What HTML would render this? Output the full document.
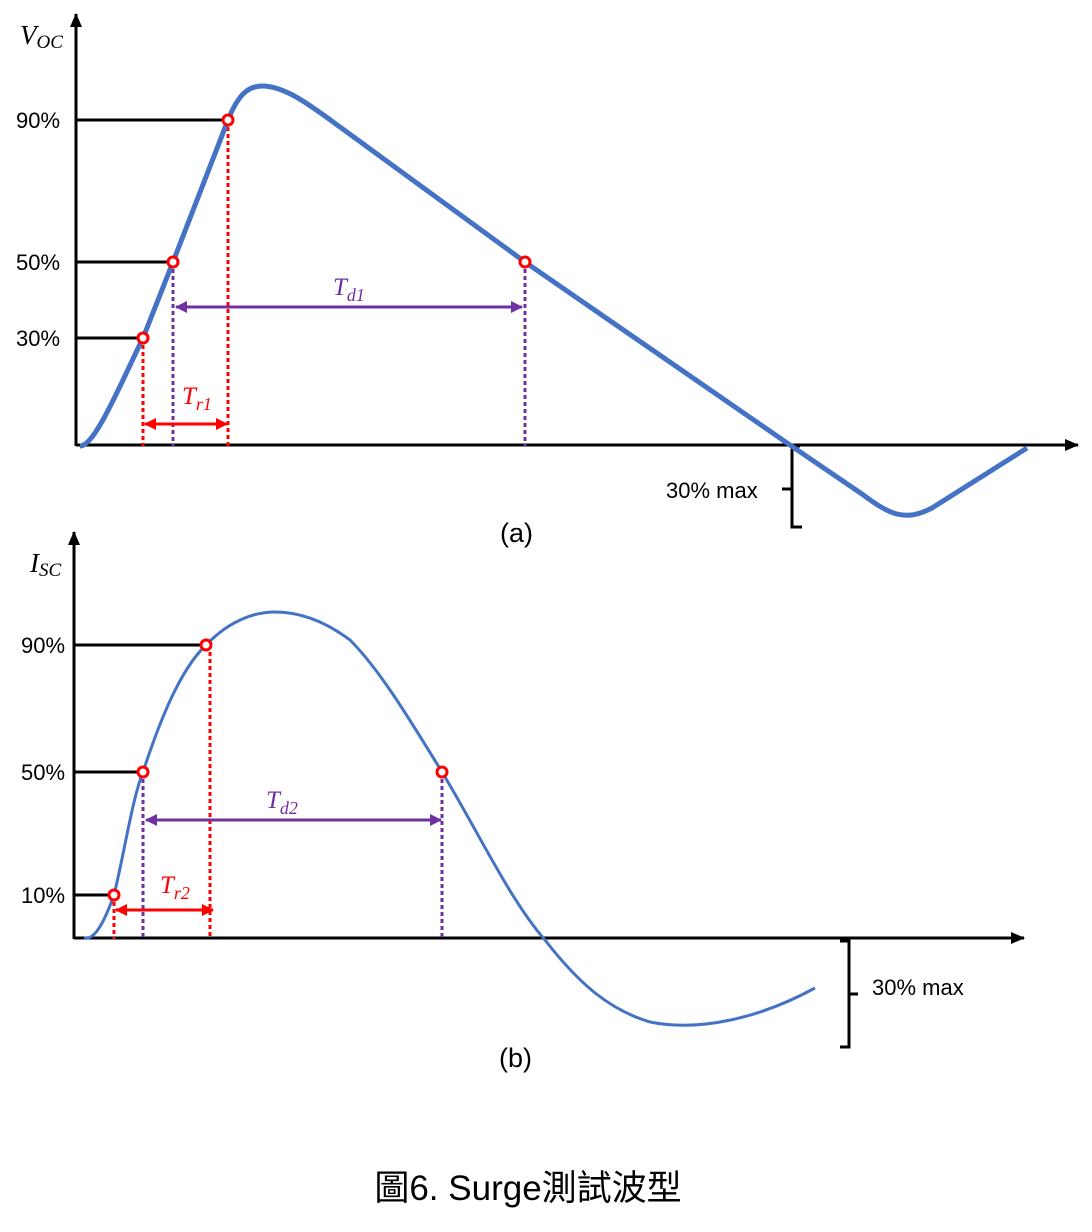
<!DOCTYPE html>
<html><head><meta charset="utf-8"><style>body{margin:0;background:#fff}svg{display:block}</style></head><body>
<svg width="1092" height="1232" viewBox="0 0 1092 1232" xmlns="http://www.w3.org/2000/svg" font-family="Liberation Sans, DejaVu Sans, sans-serif">
<defs>
<marker id="ak" markerWidth="14" markerHeight="12" refX="13" refY="6" orient="auto" markerUnits="userSpaceOnUse"><path d="M0,0 L14,6 L0,12 Z" fill="#000"/></marker>
<marker id="ar" markerWidth="12" markerHeight="12" refX="11" refY="6" orient="auto-start-reverse" markerUnits="userSpaceOnUse"><path d="M0,0 L12,6 L0,12 Z" fill="#f00"/></marker>
<marker id="ap" markerWidth="12" markerHeight="12" refX="11" refY="6" orient="auto-start-reverse" markerUnits="userSpaceOnUse"><path d="M0,0 L12,6 L0,12 Z" fill="#7030a0"/></marker>
</defs>
<g stroke="#000" stroke-width="3" fill="none">
<line x1="76" y1="446" x2="76" y2="14" marker-end="url(#ak)"/>
<line x1="76" y1="445" x2="1078" y2="445" marker-end="url(#ak)"/>
<line x1="76" y1="120" x2="228" y2="120"/>
<line x1="76" y1="262" x2="173" y2="262"/>
<line x1="76" y1="338" x2="143" y2="338"/>
<path d="M800,446 H792 V527 H802 M792,489 H782"/>
</g>
<g stroke-width="3" fill="none" stroke-dasharray="4,3">
<line x1="143" y1="338" x2="143" y2="446" stroke="#f00"/>
<line x1="228" y1="120" x2="228" y2="446" stroke="#f00"/>
<line x1="173" y1="262" x2="173" y2="446" stroke="#7030a0"/>
<line x1="525" y1="262" x2="525" y2="446" stroke="#7030a0"/>
</g>
<line x1="145" y1="424" x2="227" y2="424" stroke="#f00" stroke-width="3" marker-start="url(#ar)" marker-end="url(#ar)"/>
<line x1="176" y1="307" x2="522" y2="307" stroke="#7030a0" stroke-width="3" marker-start="url(#ap)" marker-end="url(#ap)"/>
<path d="M80,446 C95,446 120,385 143,338 L173,262 L228,120 C238,95 248,86 262,86 C285,86 310,105 340,127 L525,262 L790,445 L862,494 C890,515 905,522 932,508 L1027,448" stroke="#4472c4" stroke-width="5" fill="none"/>
<g fill="#fff" stroke="#f00" stroke-width="3">
<circle cx="228" cy="120" r="5"/><circle cx="173" cy="262" r="5"/><circle cx="143" cy="338" r="5"/><circle cx="525" cy="262" r="5"/>
</g>
<g font-size="22" fill="#000">
<text x="16" y="128">90%</text><text x="16" y="270">50%</text><text x="16" y="346">30%</text>
<text x="666" y="498">30% max</text>
<text x="500" y="542" font-size="27">(a)</text>
</g>
<text x="20" y="44" font-family="Liberation Serif, serif" font-style="italic" font-size="27">V<tspan font-size="19" dy="4">OC</tspan></text>
<text x="182" y="404" font-family="Liberation Serif, serif" font-style="italic" font-size="25" fill="#f00">T<tspan font-size="18" dy="6">r1</tspan></text>
<text x="333" y="295" font-family="Liberation Serif, serif" font-style="italic" font-size="25" fill="#7030a0">T<tspan font-size="18" dy="6">d1</tspan></text>
<g stroke="#000" stroke-width="3" fill="none">
<line x1="74" y1="939" x2="74" y2="532" marker-end="url(#ak)"/>
<line x1="74" y1="938" x2="1024" y2="938" marker-end="url(#ak)"/>
<line x1="74" y1="645" x2="206" y2="645"/>
<line x1="74" y1="772" x2="143" y2="772"/>
<line x1="74" y1="895" x2="114" y2="895"/>
<path d="M840,941 H849 V1047 H840 M849,994 H858"/>
</g>
<g stroke-width="3" fill="none" stroke-dasharray="4,3">
<line x1="114" y1="895" x2="114" y2="939" stroke="#f00"/>
<line x1="210" y1="645" x2="210" y2="939" stroke="#f00"/>
<line x1="143" y1="772" x2="143" y2="939" stroke="#7030a0"/>
<line x1="442" y1="772" x2="442" y2="939" stroke="#7030a0"/>
</g>
<line x1="116" y1="910" x2="213" y2="910" stroke="#f00" stroke-width="3" marker-start="url(#ar)" marker-end="url(#ar)"/>
<line x1="146" y1="820" x2="441" y2="820" stroke="#7030a0" stroke-width="3" marker-start="url(#ap)" marker-end="url(#ap)"/>
<path d="M84,938 C95,941 105,920 114,895 C125,850 132,800 143,772 C160,720 180,670 206,645 C230,620 255,612 275,612 C305,612 330,625 350,640 C380,670 410,720 442,772 C480,835 510,900 545,940 C580,985 610,1010 650,1022 C700,1032 760,1018 815,988" stroke="#4472c4" stroke-width="3" fill="none"/>
<g fill="#fff" stroke="#f00" stroke-width="3">
<circle cx="206" cy="645" r="5"/><circle cx="143" cy="772" r="5"/><circle cx="114" cy="895" r="5"/><circle cx="442" cy="772" r="5"/>
</g>
<g font-size="22" fill="#000">
<text x="21" y="653">90%</text><text x="21" y="780">50%</text><text x="21" y="903">10%</text>
<text x="872" y="995">30% max</text>
<text x="499" y="1067" font-size="27">(b)</text>
</g>
<text x="30" y="572" font-family="Liberation Serif, serif" font-style="italic" font-size="27">I<tspan font-size="19" dy="4">SC</tspan></text>
<text x="160" y="893" font-family="Liberation Serif, serif" font-style="italic" font-size="25" fill="#f00">T<tspan font-size="18" dy="6">r2</tspan></text>
<text x="266" y="808" font-family="Liberation Serif, serif" font-style="italic" font-size="25" fill="#7030a0">T<tspan font-size="18" dy="6">d2</tspan></text>
<text x="528" y="1200" text-anchor="middle" font-family="Liberation Sans, Noto Sans CJK TC, sans-serif" font-size="35">圖6. Surge測試波型</text>
</svg>
</body></html>
